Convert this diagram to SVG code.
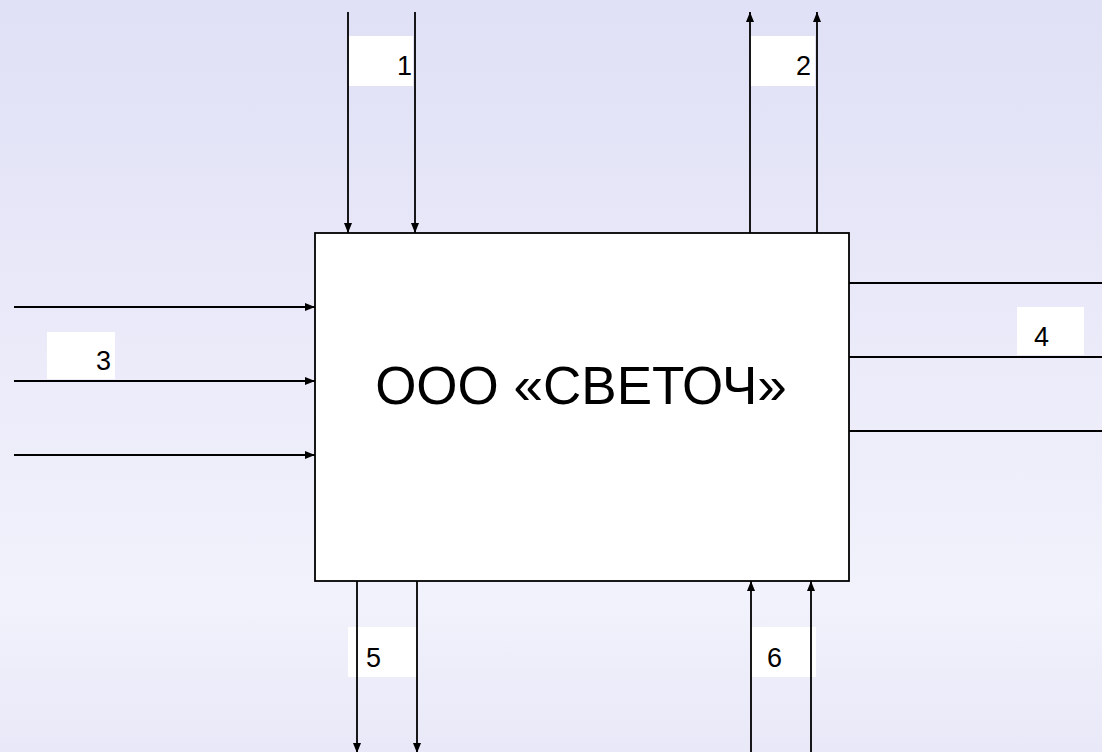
<svg xmlns="http://www.w3.org/2000/svg" width="1102" height="752" viewBox="0 0 1102 752">
<defs>
<linearGradient id="bg" x1="0" y1="0" x2="0" y2="1">
<stop offset="0" stop-color="#e0e0f6"/>
<stop offset="0.8" stop-color="#f2f2fc"/>
<stop offset="1" stop-color="#e8e8f8"/>
</linearGradient>
<marker id="arr" markerUnits="userSpaceOnUse" markerWidth="10" markerHeight="8" refX="10" refY="4" orient="auto">
<path d="M0,0 L10,4 L0,8 z" fill="#000"/>
</marker>
<style>
.ln{stroke:#000;stroke-width:1.8;fill:none}
.ar{marker-end:url(#arr)}
.lb{fill:#fff}
.t{font-family:"Liberation Sans",Arial,sans-serif;font-size:27px;fill:#000}
.main{font-family:"Liberation Sans",Arial,sans-serif;font-size:53px;fill:#000}
</style>
</defs>
<rect x="0" y="0" width="1102" height="752" fill="url(#bg)"/>
<g id="labels">
<rect class="lb" x="349" y="36" width="64" height="50"/>
<rect class="lb" x="751" y="36" width="64" height="50"/>
<rect class="lb" x="47" y="332" width="68" height="47"/>
<rect class="lb" x="1017" y="307" width="67" height="48"/>
<rect class="lb" x="348" y="627" width="68" height="50"/>
<rect class="lb" x="752" y="627" width="64" height="50"/>
</g>
<g id="connectors">
<line class="ln ar" x1="348" y1="12" x2="348" y2="233"/>
<line class="ln ar" x1="415" y1="12" x2="415" y2="233"/>
<line class="ln ar" x1="750" y1="233" x2="750" y2="12"/>
<line class="ln ar" x1="817" y1="233" x2="817" y2="12"/>
<line class="ln ar" x1="14" y1="307" x2="315" y2="307"/>
<line class="ln ar" x1="14" y1="381" x2="315" y2="381"/>
<line class="ln ar" x1="14" y1="455" x2="315" y2="455"/>
<line class="ln" x1="849" y1="283" x2="1102" y2="283"/>
<line class="ln" x1="849" y1="357" x2="1102" y2="357"/>
<line class="ln" x1="849" y1="431" x2="1102" y2="431"/>
<line class="ln ar" x1="357" y1="581" x2="357" y2="753"/>
<line class="ln ar" x1="417" y1="581" x2="417" y2="753"/>
<line class="ln ar" x1="751" y1="752" x2="751" y2="581"/>
<line class="ln ar" x1="811" y1="752" x2="811" y2="581"/>
</g>
<g id="node-svetoch">
<rect x="315" y="233" width="534" height="348" fill="#fff" stroke="#000" stroke-width="1.8"/>
<text class="main" x="581" y="404" text-anchor="middle">ООО «СВЕТОЧ»</text>
</g>
<g id="label-text">
<text class="t" x="397" y="75">1</text>
<text class="t" x="796" y="75">2</text>
<text class="t" x="96" y="370">3</text>
<text class="t" x="1034" y="346">4</text>
<text class="t" x="366" y="667">5</text>
<text class="t" x="767" y="667">6</text>
</g>
</svg>
